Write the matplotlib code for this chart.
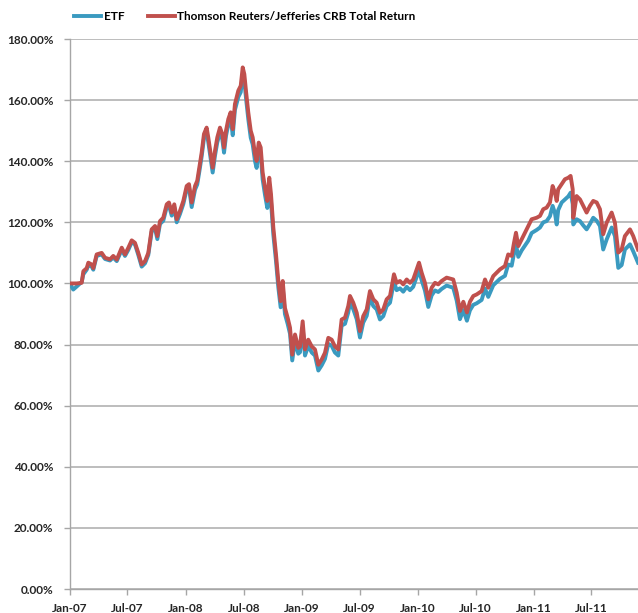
import numpy as np
import pandas as pd
import matplotlib
matplotlib.use("Agg")
import matplotlib.pyplot as plt
import matplotlib.dates as mdates
from matplotlib.ticker import FuncFormatter

# years elapsed since 2007-01-01
years = [0.006, 0.028, 0.058, 0.101, 0.115, 0.144, 0.158, 0.187, 0.201, 0.230,
         0.273, 0.302, 0.345, 0.373, 0.403, 0.446, 0.474, 0.503, 0.532, 0.560,
         0.589, 0.618, 0.647, 0.675, 0.704, 0.733, 0.753, 0.776, 0.804, 0.834,
         0.853, 0.877, 0.899, 0.920, 0.948, 0.977, 1.006, 1.026, 1.049, 1.078,
         1.097, 1.115, 1.135, 1.155, 1.178, 1.192, 1.213, 1.230, 1.250, 1.270,
         1.293, 1.313, 1.328, 1.345, 1.365, 1.385, 1.403, 1.422, 1.451, 1.472,
         1.489, 1.503, 1.517, 1.537, 1.558, 1.575, 1.595, 1.609, 1.627, 1.644,
         1.661, 1.681, 1.701, 1.718, 1.733, 1.753, 1.776, 1.796, 1.816, 1.834,
         1.853, 1.877, 1.897, 1.916, 1.940, 1.968, 1.983, 2.006, 2.026, 2.054,
         2.084, 2.112, 2.141, 2.170, 2.198, 2.227, 2.256, 2.284, 2.313, 2.342,
         2.371, 2.399, 2.414, 2.442, 2.472, 2.500, 2.528, 2.558, 2.586, 2.615,
         2.644, 2.672, 2.701, 2.730, 2.759, 2.793, 2.816, 2.845, 2.873, 2.903,
         2.931, 2.959, 2.989, 3.009, 3.032, 3.060, 3.089, 3.118, 3.147, 3.175,
         3.204, 3.247, 3.304, 3.334, 3.362, 3.391, 3.422, 3.448, 3.477, 3.506,
         3.549, 3.578, 3.606, 3.649, 3.707, 3.750, 3.778, 3.808, 3.828, 3.845,
         3.865, 3.894, 3.922, 3.951, 3.980, 4.023, 4.052, 4.080, 4.109, 4.138,
         4.161, 4.181, 4.196, 4.209, 4.239, 4.267, 4.296, 4.316, 4.334, 4.339,
         4.368, 4.397, 4.425, 4.454, 4.483, 4.511, 4.541, 4.569, 4.597, 4.627,
         4.670, 4.698, 4.727, 4.756, 4.784, 4.828, 4.856, 4.897]

crb = [100.0, 100.0, 100.0, 100.2, 104.0, 105.0, 106.8, 106.2, 105.0, 109.5,
       110.0, 108.4, 107.9, 109.0, 107.8, 111.7, 109.5, 111.7, 114.1, 113.3,
       110.0, 106.2, 107.3, 110.0, 117.7, 118.8, 115.5, 120.4, 121.5, 125.9,
       126.5, 123.2, 125.9, 121.0, 123.7, 127.0, 131.9, 132.5, 126.5, 131.9,
       133.6, 137.9, 142.8, 148.9, 151.0, 147.8, 142.3, 137.9, 143.4, 147.8,
       151.0, 148.9, 144.5, 150.0, 153.8, 156.0, 150.5, 158.7, 163.1, 164.7,
       170.7, 168.5, 163.1, 156.0, 150.0, 147.8, 142.3, 140.1, 146.1, 144.5,
       136.3, 131.4, 127.0, 134.6, 129.2, 118.3, 109.5, 100.8, 94.2, 100.8,
       92.0, 88.7, 85.5, 76.7, 83.3, 78.9, 79.4, 87.6, 78.4, 81.6,
       79.4, 78.4, 73.4, 75.1, 77.3, 82.2, 81.6, 79.4, 78.4, 88.2,
       88.8, 92.6, 95.9, 93.7, 90.4, 84.4, 89.3, 91.5, 97.5, 94.8,
       93.7, 90.4, 91.5, 94.8, 95.9, 103.0, 100.2, 100.8, 99.7, 101.3,
       100.2, 101.3, 104.6, 106.8, 103.5, 100.2, 94.8, 98.6, 100.2, 99.7,
       100.8, 101.9, 101.3, 97.0, 91.0, 94.0, 90.5, 94.0, 95.9, 96.4,
       97.5, 101.3, 98.6, 102.4, 104.6, 105.7, 109.5, 109.0, 113.3, 116.6,
       112.2, 114.4, 116.6, 118.8, 121.0, 121.5, 122.1, 124.3, 124.8, 126.5,
       131.9, 129.7, 127.0, 130.8, 132.5, 134.1, 134.6, 135.2, 130.8, 121.5,
       128.6, 127.5, 125.4, 123.2, 125.4, 127.0, 126.5, 124.3, 116.1, 119.9,
       123.2, 119.9, 110.1, 111.1, 115.5, 117.7, 115.5, 111.1]

etf = [99.5, 98.0, 99.0, 100.5, 103.0, 104.5, 106.0, 105.5, 104.5, 109.0,
       109.5, 108.0, 107.5, 108.5, 107.3, 111.0, 109.0, 111.0, 113.5, 112.8,
       109.3, 105.5, 106.6, 109.3, 117.0, 118.0, 114.5, 119.5, 120.5, 125.0,
       125.5, 122.2, 125.0, 120.0, 122.7, 126.0, 130.8, 131.4, 125.0, 130.7,
       132.4, 136.6, 141.5, 147.5, 149.6, 146.3, 140.8, 136.3, 141.8, 146.2,
       149.4, 147.2, 142.8, 148.3, 152.0, 154.2, 148.5, 156.8, 161.0, 162.6,
       168.5, 166.3, 160.8, 153.8, 147.7, 145.5, 140.0, 137.8, 143.8, 142.2,
       134.0, 129.0, 124.7, 132.3, 126.8, 116.0, 107.3, 98.7, 92.2, 98.8,
       90.0, 86.7, 83.5, 74.8, 81.3, 77.0, 77.5, 85.5, 76.4, 79.6,
       77.4, 76.4, 71.5, 73.2, 75.3, 80.2, 79.6, 77.4, 76.4, 86.2,
       86.8, 90.5, 93.8, 91.6, 88.3, 82.3, 87.2, 89.4, 95.3, 92.6,
       91.5, 88.2, 89.3, 92.6, 93.7, 100.6, 97.8, 98.4, 97.3, 98.9,
       97.8, 98.9, 102.2, 104.4, 101.0, 97.7, 92.3, 96.1, 97.7, 97.2,
       98.2, 99.3, 98.6, 94.4, 88.3, 91.3, 87.8, 91.2, 93.0, 93.5,
       94.6, 98.3, 95.6, 99.4, 101.5, 102.5, 106.2, 105.8, 109.8, 112.8,
       108.7, 110.8, 112.4, 114.0, 116.5, 117.5, 118.3, 120.0, 120.4, 122.0,
       125.4, 123.0, 119.3, 124.0, 126.5, 127.5, 128.5, 129.7, 126.0, 119.3,
       121.0, 120.4, 119.0, 117.7, 119.5, 121.5, 120.5, 118.8, 111.1, 114.4,
       118.3, 115.5, 105.1, 106.0, 111.1, 112.8, 110.5, 106.8]

series_names = ["ETF", "Thomson Reuters/Jefferies CRB Total Return"]
y_ticks = [0, 20, 40, 60, 80, 100, 120, 140, 160, 180]

start = pd.Timestamp("2007-01-01")
dates = start + pd.to_timedelta(np.array(years) * 365.25, unit="D")

FONT = ["Lato", "DejaVu Sans"]
plt.rcParams["font.family"] = FONT

fig = plt.figure(figsize=(6.38, 6.13), dpi=100)
ax = fig.add_axes([70 / 638, 24 / 613, 1 - 70 / 638, (589 - 39) / 613])

blue = "#3A9AC0"
red = "#C0504D"
l1, = ax.plot(dates, np.array(etf) / 100, color=blue, lw=2.8, solid_joinstyle="round", zorder=3)
l2, = ax.plot(dates, np.array(crb) / 100, color=red, lw=2.8, solid_joinstyle="round", zorder=4)

ax.set_ylim(0, 1.8)
ax.set_yticks([v / 100 for v in y_ticks])
ax.yaxis.set_major_formatter(FuncFormatter(lambda v, p: f"{v*100:.2f}%"))
ax.set_xlim(start, dates[-1])
ax.xaxis.set_major_locator(mdates.MonthLocator(bymonth=[1, 7]))
ax.xaxis.set_major_formatter(mdates.DateFormatter("%b-%y"))

ax.grid(axis="y", color="#BDBDBD", lw=1.4, zorder=0)
ax.set_axisbelow(True)
for s in ["top", "right"]:
    ax.spines[s].set_visible(False)
for s in ["left", "bottom"]:
    ax.spines[s].set_color("#A6A6A6")
    ax.spines[s].set_linewidth(1.0)
ax.tick_params(axis="both", colors="#A6A6A6", length=4, width=1.0, direction="out",
               labelcolor="#262626", labelsize=8.5)
ax.tick_params(axis="y", pad=8)
ax.tick_params(axis="x", pad=6)
for lab in ax.get_xticklabels() + ax.get_yticklabels():
    lab.set_fontweight("bold")

fig.legend([l1, l2], series_names, loc="center left", bbox_to_anchor=(74 / 638, 1 - 17 / 613),
           ncol=2, frameon=False, handlelength=2.3, handletextpad=0.2, columnspacing=2.0,
           prop={"family": FONT, "weight": "bold", "size": 8.5}, borderaxespad=0, borderpad=0)

fig.savefig("out.png", dpi=100)
